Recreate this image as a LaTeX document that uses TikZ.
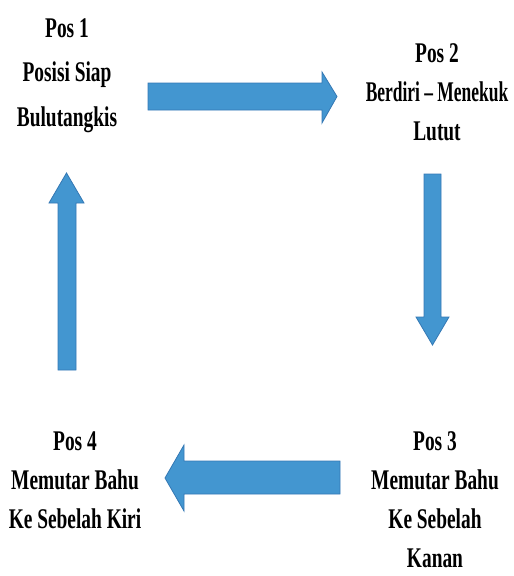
\documentclass[tikz,border=0pt]{standalone}
\usepackage{fontspec}
\usepackage{graphicx}
\newfontfamily\labelfont[FakeStretch=0.68]{Liberation Serif}
\definecolor{arrowfill}{RGB}{67,150,208}
\definecolor{arrowline}{RGB}{52,120,180}
\begin{document}
\begin{tikzpicture}[x=1pt,y=-1pt,
  blockarrow/.style={fill=arrowfill,draw=arrowline,line width=0.8pt,line join=miter},
  poslabel/.style={font=\labelfont\bfseries\fontsize{28.5}{39}\selectfont,align=center,anchor=base,inner sep=0pt}]
\useasboundingbox (0,0) rectangle (514,576);
% labels (anchor = baseline of the last line)
\node[poslabel,font=\labelfont\bfseries\fontsize{28.5}{44.5}\selectfont] (p1) at (67,126) {Pos 1\\Posisi Siap\\Bulutangkis};
\node[poslabel] (p2) at (437,140) {Pos 2\\\scalebox{0.9}[1]{Berdiri – Menekuk}\\Lutut};
\node[poslabel] (p3) at (435,567) {Pos 3\\Memutar Bahu\\Ke Sebelah\\Kanan};
\node[poslabel] (p4) at (75,528) {Pos 4\\Memutar Bahu\\Ke Sebelah Kiri};
% arrows
\draw[blockarrow] (148,83) -- (322,83) -- (322,72) -- (337,96.5) -- (322,123) -- (322,110) -- (148,110) -- cycle;
\draw[blockarrow] (424,174) -- (441,174) -- (441,317) -- (449,317) -- (432.5,345) -- (416,317) -- (424,317) -- cycle;
\draw[blockarrow] (340,461) -- (184,461) -- (184,445) -- (165,478) -- (184,511) -- (184,494) -- (340,494) -- cycle;
\draw[blockarrow] (58,370) -- (58,203) -- (49,203) -- (66.5,173) -- (84,203) -- (76,203) -- (76,370) -- cycle;
\end{tikzpicture}
\end{document}
